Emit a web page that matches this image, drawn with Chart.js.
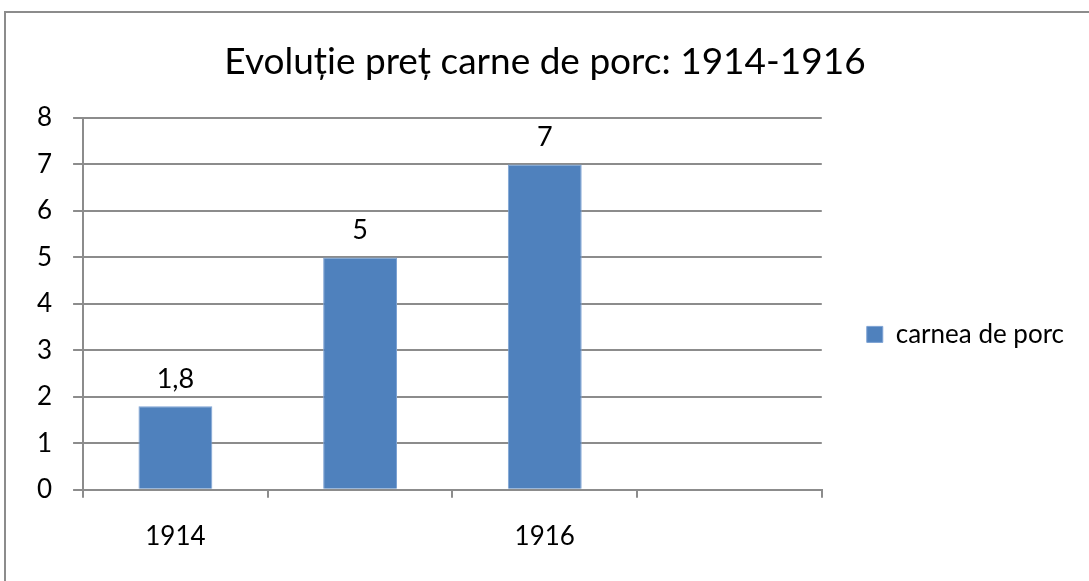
<!DOCTYPE html>
<html>
<head>
<meta charset="utf-8">
<script src="https://cdn.jsdelivr.net/npm/chart.js@4.4.0/dist/chart.umd.min.js"></script>
<style>
    html, body { margin: 0; padding: 0; background: #fff; overflow: hidden; }
    #frame { position: absolute; left: 4px; top: 11px; width: 1100px; height: 600px; border: 2px solid #8c8c8c; }
    #wrap { position: absolute; left: 0; top: 0; width: 1089px; height: 581px; }
</style>
</head>
<body>
<div id="frame"></div>
<div id="wrap"><canvas id="pretChart"></canvas></div>
<script>
// date grafic
const ani = ['1914', '', '1916', ''];
const pretPorc = [1.8, 5, 7, null];
const yTicks = [0, 1, 2, 3, 4, 5, 6, 7, 8];
const numeSerie = 'carnea de porc';
const titlu = 'Evoluție preț carne de porc: 1914-1916';

const fontName = 'Lato, "Open Sans", sans-serif';

// eticheta valorii deasupra fiecarei coloane (cu virgula)
const valoriPlugin = {
    id: 'valori',
    afterDatasetsDraw(chart) {
        const ctx = chart.ctx;
        const meta = chart.getDatasetMeta(0);
        ctx.save();
        ctx.font = '27px ' + fontName;
        ctx.fillStyle = '#000';
        ctx.textAlign = 'center';
        ctx.textBaseline = 'middle';
        meta.data.forEach((bar, i) => {
            const v = pretPorc[i];
            if (v === null || v === undefined) return;
            ctx.fillText(String(v).replace('.', ','), bar.x, bar.y - 27);
        });
        ctx.restore();
    }
};

const ctx = document.getElementById('pretChart').getContext('2d');
new Chart(ctx, {
    type: 'bar',
    data: {
        labels: ani,
        datasets: [{
            label: numeSerie,
            data: pretPorc,
            backgroundColor: '#4f81bd',
            borderColor: '#7ea3d4',
            borderWidth: 1,
            barPercentage: 0.4,
            categoryPercentage: 1.0
        }]
    },
    options: {
        responsive: true,
        maintainAspectRatio: false,
        animation: false,
        layout: { padding: { left: 16, right: 15, top: 0, bottom: 6 } },
        plugins: {
            title: {
                display: true,
                text: titlu,
                color: '#000',
                font: { family: fontName, size: 37, weight: 'normal' },
                padding: { top: 40, bottom: 33.6 }
            },
            legend: {
                position: 'right',
                align: 'start',
                title: { display: true, text: '', padding: { top: 0, bottom: 262 } },
                labels: {
                    color: '#000',
                    font: { family: fontName, size: 26 },
                    boxWidth: 16,
                    boxHeight: 16,
                    padding: 45
                }
            },
            tooltip: { enabled: false }
        },
        scales: {
            x: {
                offset: true,
                grid: { display: true, drawOnChartArea: false, offset: true, color: '#8c8c8c', tickLength: 8, lineWidth: 2 },
                border: { color: '#8c8c8c', width: 2 },
                ticks: { color: '#000', font: { family: fontName, size: 26 }, padding: 23, autoSkip: false, maxRotation: 0 }
            },
            y: {
                min: 0,
                max: 8,
                afterBuildTicks(axis) { axis.ticks = yTicks.map(v => ({ value: v })); },
                grid: { color: '#8c8c8c', tickLength: 10, lineWidth: 2 },
                border: { color: '#8c8c8c', width: 2 },
                ticks: { color: '#000', font: { family: fontName, size: 26 }, padding: 21 }
            }
        }
    },
    plugins: [valoriPlugin]
});
</script>
</body>
</html>
